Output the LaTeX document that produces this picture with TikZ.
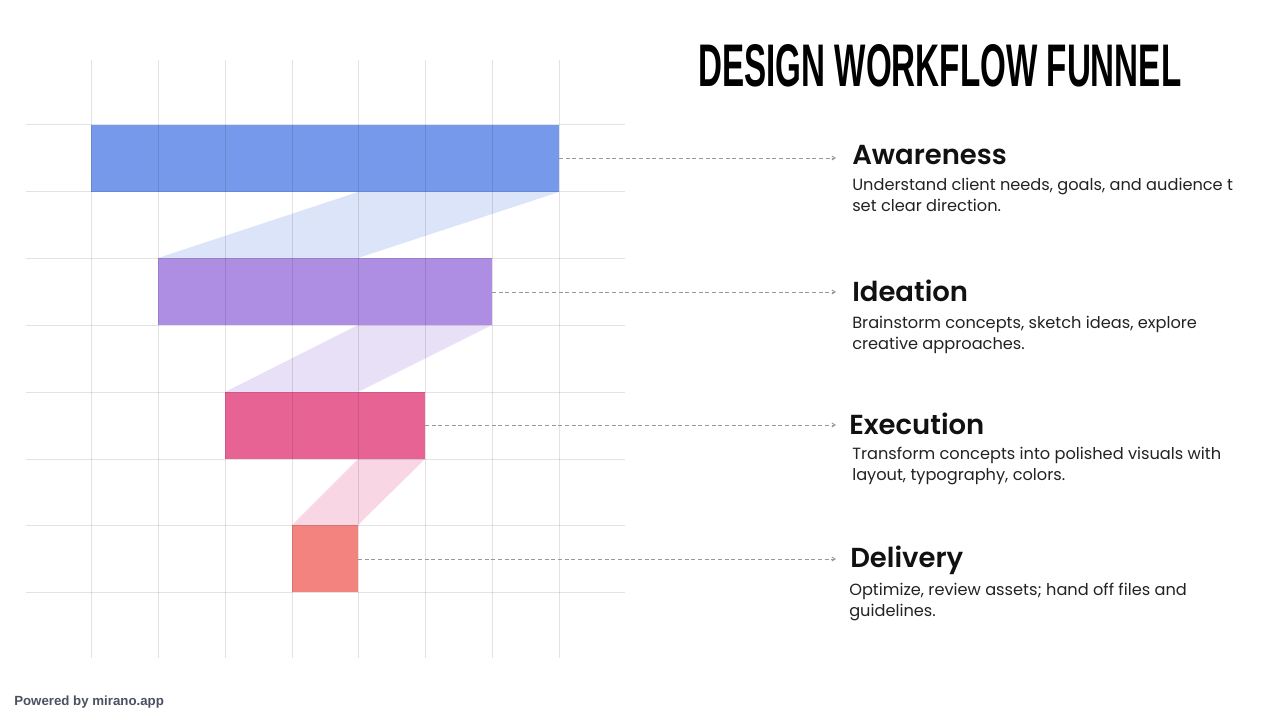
\documentclass[tikz,border=0pt]{standalone}
\usepackage{fontspec}
\usepackage{graphicx}
\setmainfont{Poppins}
\newfontfamily\headfont{Poppins}[UprightFont=* SemiBold]
\newfontfamily\titlefont{Liberation Sans}
\newfontfamily\footfont{Liberation Sans}
\usetikzlibrary{arrows.meta}
\definecolor{cAw}{HTML}{7799EC}
\definecolor{cId}{HTML}{AE8EE2}
\definecolor{cEx}{HTML}{E76394}
\definecolor{cDe}{HTML}{F2837F}
\definecolor{lAw}{HTML}{DCE4F9}
\definecolor{lId}{HTML}{E8E0F6}
\definecolor{lEx}{HTML}{F8D6E3}
\definecolor{gridc}{HTML}{000000}
\definecolor{dashc}{HTML}{999999}
\definecolor{txt}{HTML}{111111}
\definecolor{desc}{HTML}{222222}
\definecolor{foot}{HTML}{4B5162}
\tikzset{
  bar/.style={inner sep=0pt, outer sep=0pt, draw=none},
  gridline/.style={draw=gridc, draw opacity=0.11, line width=0.75pt},
  leader/.style={draw=dashc, line width=0.7pt, dash pattern=on 3pt off 2pt, -{Straight Barb[length=2.5pt,width=3pt]}},
  head/.style={anchor=base west, inner sep=0pt, font=\headfont\fontsize{20.6}{25}\selectfont, text=txt},
  descr/.style={anchor=base west, inner sep=0pt, font=\fontsize{12.15}{15}\selectfont, text=desc},
}
\begin{document}
\begin{tikzpicture}[x=0.75pt, y=-0.75pt]
\useasboundingbox (0,0) rectangle (1280,720);
% connectors between bars
\fill[lAw] (358,192) -- (559,192) -- (358,258) -- (158,258) -- cycle;
\fill[lId] (358,325) -- (492,325) -- (358,392) -- (225,392) -- cycle;
\fill[lEx] (358,459) -- (425,459) -- (358,525) -- (292,525) -- cycle;
% bars
\node[bar, fill=cAw, minimum width=351pt, minimum height=50.25pt] (aw) at (325,158.5) {};
\node[bar, fill=cId, minimum width=250.5pt, minimum height=50.25pt] (id) at (325,291.5) {};
\node[bar, fill=cEx, minimum width=150pt, minimum height=50.25pt] (ex) at (325,425.5) {};
\node[bar, fill=cDe, minimum width=49.5pt, minimum height=50.25pt] (de) at (325,558.5) {};
% grid
\foreach \x in {91,158,225,292,358,425,492,559} \draw[gridline] (\x,60) -- (\x,658);
\foreach \y in {125,192,258,325,392,459,525,592} \draw[gridline] (26,\y) -- (625,\y);
% leader ends
\coordinate (eAw) at (836,158);
\coordinate (eId) at (836,292);
\coordinate (eEx) at (836,425);
\coordinate (eDe) at (836,559);
\draw[leader] (aw.east |- eAw) -- (eAw);
\draw[leader] (id.east |- eId) -- (eId);
\draw[leader] (ex.east |- eEx) -- (eEx);
\draw[leader] (de.east |- eDe) -- (eDe);
% title
\node[anchor=base west, inner sep=0pt] (title) at (698,87) {\resizebox{362.25pt}{31.5pt}{\titlefont\bfseries DESIGN WORKFLOW FUNNEL}};
% texts
\node[head] (hAw) at (852,165) {Awareness};
\node[descr] (dAw1) at (852,191) {Understand client needs, goals, and audience t};
\node[descr] (dAw2) at (852,212) {set clear direction.};
\node[head] (hId) at (852,301) {Ideation};
\node[descr] (dId1) at (852,328) {Brainstorm concepts, sketch ideas, explore};
\node[descr] (dId2) at (852,349) {creative approaches.};
\node[head] (hEx) at (849,434) {Execution};
\node[descr] (dEx1) at (852,459) {Transform concepts into polished visuals with};
\node[descr] (dEx2) at (852,480) {layout, typography, colors.};
\node[head] (hDe) at (850,567) {Delivery};
\node[descr] (dDe1) at (849,595) {Optimize, review assets; hand off files and};
\node[descr] (dDe2) at (849,616) {guidelines.};
% footer
\node[anchor=base west, inner sep=0pt, text=foot, font=\footfont\bfseries\fontsize{9.95}{12}\selectfont] (ft) at (14,705) {Powered by mirano.app};
\end{tikzpicture}
\end{document}
